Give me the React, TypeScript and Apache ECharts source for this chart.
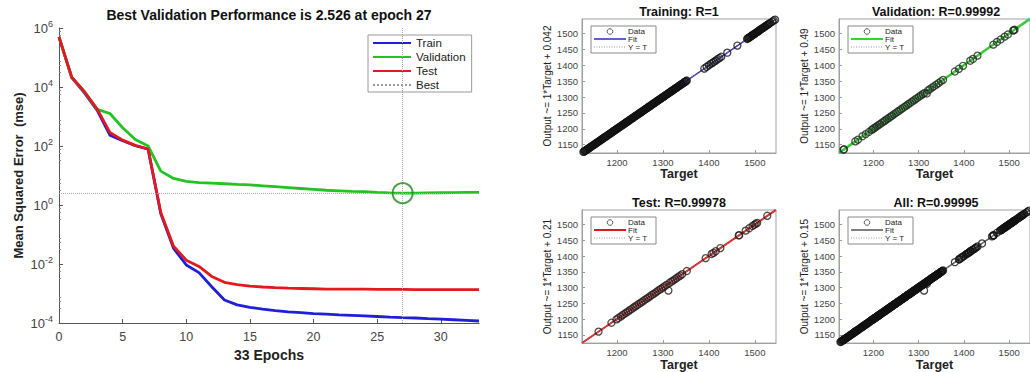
import React, { useEffect, useRef } from "react";
import * as echarts from "echarts";

// ---------------- data: performance curve ----------------
const epochs = [0, 1, 2, 3, 4, 5, 6, 7, 8, 9, 10, 11, 12, 13, 14, 15, 16, 17, 18, 19, 20, 21, 22, 23, 24, 25, 26, 27, 28, 29, 30, 31, 32, 33];
const trainPerf = [4.9e5, 2.09e4, 6.3e3, 1.62e3, 234, 151, 102, 79, 0.5, 0.034, 9.3e-3, 5.1e-3, 1.7e-3, 6.0e-4, 4.1e-4, 3.4e-4, 2.95e-4, 2.63e-4, 2.4e-4, 2.24e-4, 2.09e-4, 2.0e-4, 1.9e-4, 1.82e-4, 1.74e-4, 1.66e-4, 1.58e-4, 1.51e-4, 1.48e-4, 1.41e-4, 1.35e-4, 1.29e-4, 1.23e-4, 1.17e-4];
const valPerf = [5.0e5, 2.14e4, 6.9e3, 1.74e3, 1.26e3, 417, 166, 100, 14.1, 7.94, 6.31, 5.75, 5.5, 5.25, 5.0, 4.79, 4.47, 4.17, 3.89, 3.63, 3.39, 3.16, 3.02, 2.88, 2.82, 2.69, 2.57, 2.526, 2.54, 2.57, 2.6, 2.63, 2.66, 2.69];
const testPerf = [5.0e5, 2.14e4, 6.9e3, 1.78e3, 288, 158, 105, 79, 0.56, 0.04, 0.0135, 8.3e-3, 3.8e-3, 2.4e-3, 2.0e-3, 1.78e-3, 1.66e-3, 1.58e-3, 1.51e-3, 1.48e-3, 1.45e-3, 1.41e-3, 1.41e-3, 1.41e-3, 1.41e-3, 1.38e-3, 1.38e-3, 1.38e-3, 1.35e-3, 1.35e-3, 1.35e-3, 1.35e-3, 1.35e-3, 1.35e-3];
const bestEpoch = 27;
const bestPerf = 2.526;
const epochTicks = [0, 5, 10, 15, 20, 25, 30];
const perfTicks = [1e-4, 1e-2, 1, 1e2, 1e4, 1e6];
const perfRange = [1e-4, 1e6];
const epochRange = [0, 33];

// ---------------- data: regression panels ----------------
const panelTitles = ["Training", "Validation", "Test", "All"];
const panelR = ["1", "0.99992", "0.99978", "0.99995"];
const fitSlope = [1, 1, 1, 1];
const fitIntercept = [0.042, 0.49, 0.21, 0.15];
const targetRange = [1124, 1546];
const targetTicks = [1200, 1300, 1400, 1500];
const outputTicks = [1150, 1200, 1250, 1300, 1350, 1400, 1450, 1500];

const trainPoints: [number, number][] = [
  [1127, 1127.5], [1130, 1130.2], [1133, 1133], [1136, 1136.4], [1139, 1138.8], [1142, 1142.3], [1145, 1145], [1148, 1148.5],
  [1151, 1150.7], [1154, 1154.2], [1157, 1157], [1160, 1160.3], [1163, 1162.8], [1166, 1166.2], [1169, 1169], [1172, 1172.4],
  [1175, 1174.7], [1178, 1178.1], [1181, 1181], [1184, 1184.3], [1187, 1186.8], [1190, 1190.2], [1193, 1193], [1196, 1196.4],
  [1199, 1198.9], [1202, 1202.2], [1205, 1205], [1208, 1208.3], [1211, 1210.8], [1214, 1214.1], [1217, 1217], [1220, 1220.4],
  [1223, 1222.7], [1226, 1226.2], [1229, 1229], [1232, 1232.3], [1235, 1234.8], [1238, 1238.2], [1241, 1241], [1244, 1244.4],
  [1247, 1246.9], [1250, 1250.1], [1253, 1253], [1256, 1256.3], [1259, 1258.8], [1262, 1262.2], [1265, 1265], [1268, 1268.4],
  [1271, 1270.8], [1274, 1274.1], [1277, 1277], [1280, 1280.3], [1283, 1282.8], [1286, 1286.2], [1289, 1289], [1292, 1292.4],
  [1295, 1294.8], [1298, 1298.1], [1301, 1301], [1304, 1304.3], [1307, 1306.8], [1310, 1310.2], [1313, 1313], [1316, 1316.3],
  [1319, 1318.9], [1322, 1322.2], [1325, 1325], [1328, 1328.4], [1331, 1330.8], [1334, 1334.2], [1337, 1337], [1340, 1340.3],
  [1343, 1342.8], [1346, 1346.1], [1349, 1349], [1352, 1352.3],
  [1128.5, 1128.2], [1131.5, 1131.9], [1134.5, 1134.3], [1137.5, 1137.8], [1140.5, 1140.2], [1143.5, 1143.9], [1146.5, 1146.3], [1149.5, 1149.8],
  [1152.5, 1152.2], [1155.5, 1155.9], [1158.5, 1158.3], [1161.5, 1161.8], [1164.5, 1164.2], [1167.5, 1167.9], [1170.5, 1170.3], [1173.5, 1173.8],
  [1176.5, 1176.2], [1179.5, 1179.9], [1182.5, 1182.3], [1185.5, 1185.8], [1188.5, 1188.2], [1191.5, 1191.9], [1194.5, 1194.3], [1197.5, 1197.8],
  [1200.5, 1200.2], [1203.5, 1203.9], [1206.5, 1206.3], [1209.5, 1209.8], [1212.5, 1212.2], [1215.5, 1215.9], [1218.5, 1218.3], [1221.5, 1221.8],
  [1224.5, 1224.2], [1227.5, 1227.9], [1230.5, 1230.3], [1233.5, 1233.8], [1236.5, 1236.2], [1239.5, 1239.9], [1242.5, 1242.3], [1245.5, 1245.8],
  [1248.5, 1248.2], [1251.5, 1251.9], [1254.5, 1254.3], [1257.5, 1257.8], [1260.5, 1260.2], [1263.5, 1263.9], [1266.5, 1266.3], [1269.5, 1269.8],
  [1272.5, 1272.2], [1275.5, 1275.9], [1278.5, 1278.3], [1281.5, 1281.8], [1284.5, 1284.2], [1287.5, 1287.9], [1290.5, 1290.3], [1293.5, 1293.8],
  [1296.5, 1296.2], [1299.5, 1299.9], [1302.5, 1302.3], [1305.5, 1305.8], [1308.5, 1308.2], [1311.5, 1311.9], [1314.5, 1314.3], [1317.5, 1317.8],
  [1320.5, 1320.2], [1323.5, 1323.9], [1326.5, 1326.3], [1329.5, 1329.8], [1332.5, 1332.2], [1335.5, 1335.9], [1338.5, 1338.3], [1341.5, 1341.8],
  [1344.5, 1344.2], [1347.5, 1347.9], [1350.5, 1350.3],
  [1390, 1390], [1395, 1395.5], [1400, 1400], [1404, 1404.6], [1408, 1408], [1411, 1411.3], [1415, 1415], [1419, 1419.4],
  [1423, 1423], [1427, 1427.2], [1440, 1440], [1462, 1462.3], [1483, 1483], [1486, 1486.4], [1489, 1489], [1492, 1492.2],
  [1495, 1495], [1498, 1498.3], [1501, 1501], [1504, 1504.2], [1507, 1507], [1510, 1510.3], [1514, 1514], [1518, 1518.2],
  [1522, 1522], [1526, 1526.3], [1530, 1530], [1534, 1534.2], [1538, 1538], [1541, 1541.3], [1544, 1544],
  [1484.5, 1484.8], [1487.5, 1487.3], [1490.5, 1490.9], [1493.5, 1493.4], [1496.5, 1496.8], [1499.5, 1499.2], [1502.5, 1502.7],
  [1505.5, 1505.3], [1508.5, 1508.8], [1512, 1512.3], [1516, 1516.4], [1520, 1520.2], [1524, 1524.5], [1528, 1528.1], [1532, 1532.4],
];

const valPoints: [number, number][] = [
  [1134, 1134.5], [1135, 1135.8], [1160, 1160.6], [1166, 1166.2], [1176, 1176.9], [1183, 1183.4], [1190, 1190.2], [1196, 1196.8],
  [1199, 1199.3], [1202, 1202.9], [1205, 1205.1], [1208, 1208.7], [1212, 1212.4], [1215, 1215.3], [1219, 1219.8], [1223, 1223.2],
  [1226, 1226.6], [1230, 1230.9], [1234, 1234.1], [1238, 1238.7], [1241, 1241.4], [1245, 1245.9], [1249, 1249.2], [1253, 1253.8],
  [1257, 1257.3], [1261, 1261.6], [1265, 1265.2], [1269, 1269.7], [1273, 1273.4], [1277, 1277.9], [1281, 1281.1], [1285, 1285.6],
  [1289, 1289.4], [1293, 1293.8], [1297, 1297.2], [1301, 1301.7], [1305, 1305.3], [1309, 1309.5], [1313, 1313.1], [1318, 1311.5],
  [1321, 1321.6], [1325, 1325.2], [1330, 1330.8], [1334, 1334.3], [1339, 1339.5], [1344, 1344.1], [1349, 1349.7], [1354, 1354.4],
  [1380, 1380.6], [1389, 1389.2], [1398, 1398.5], [1414, 1414.7], [1420, 1420.3], [1430, 1430.6], [1465, 1465.2], [1473, 1473.8],
  [1481, 1481.4], [1490, 1490.5], [1497, 1497.1], [1509, 1509.4], [1510, 1510.8], [1512, 1512.2],
];

const testPoints: [number, number][] = [
  [1160, 1160.4], [1188, 1188.6], [1199, 1199.2], [1203, 1203.5], [1208, 1208.1], [1212, 1212.6], [1216, 1216.3], [1220, 1220.8],
  [1224, 1224.2], [1228, 1228.5], [1232, 1232.1], [1236, 1236.7], [1240, 1240.3], [1244, 1244.6], [1248, 1248.2], [1252, 1252.5],
  [1256, 1256.1], [1260, 1260.6], [1264, 1264.3], [1268, 1268.4], [1272, 1272.2], [1276, 1276.7], [1280, 1280.1], [1284, 1284.5],
  [1288, 1288.3], [1292, 1292.6], [1296, 1296.2], [1300, 1300.4], [1304, 1304.1], [1308, 1308.6], [1312, 1290.5], [1314, 1314.3],
  [1318, 1318.7], [1322, 1322.2], [1326, 1326.5], [1330, 1330.1], [1334, 1334.6], [1338, 1338.2], [1342, 1342.4], [1352, 1352.5],
  [1393, 1393.4], [1406, 1406.6], [1410, 1410.2], [1415, 1415.5], [1425, 1425.3], [1465, 1465.4], [1466, 1466.2], [1480, 1480.6],
  [1488, 1488.3], [1495, 1495.5], [1499, 1499.2], [1502, 1502.4], [1505, 1505.1], [1527, 1527.6],
];

const allPoints: [number, number][] = [...trainPoints, ...valPoints, ...testPoints];
const panelPoints = [trainPoints, valPoints, testPoints, allPoints];

// ---------------- layout & style ----------------
const FONT = "'Liberation Sans', Arial, Helvetica, sans-serif";
const mainGrid = { left: 59, top: 28, width: 420, height: 295 };
const panelGrids = [
  { left: 582, top: 19, width: 194, height: 134 },
  { left: 839, top: 19, width: 194, height: 134 },
  { left: 582, top: 210, width: 194, height: 134 },
  { left: 839, top: 210, width: 194, height: 134 },
];
const fitColors = ["#1c1cb4", "#2fd62f", "#e01a1a", "#555555"];
const fitWidths = [1.4, 2.6, 2, 1.5];
const dotColors = ["#111111", "#1e2a1e", "#2a1a1a", "#111111"];
const trainColor = "#1f1fd8";
const valColor = "#22c322";
const testColor = "#e3191e";

function miniLegend(i: number) {
  const g = panelGrids[i];
  const x = g.left + 9;
  const y = g.top + 7;
  const txt = (t: string, dy: number) => ({
    type: "text",
    x: x + 37,
    y: y + dy,
    silent: true,
    style: { text: t, fill: "#222", font: `8px ${FONT}`, align: "left", verticalAlign: "middle" },
  });
  return {
    type: "group",
    silent: true,
    children: [
      { type: "rect", shape: { x, y, width: 65, height: 27 }, style: { fill: "#fff", stroke: "#8a8a8a", lineWidth: 1 } },
      { type: "circle", shape: { cx: x + 19, cy: y + 5.5, r: 2.8 }, style: { fill: "none", stroke: "#333", lineWidth: 0.8 } },
      txt("Data", 5.5),
      { type: "line", shape: { x1: x + 3, y1: y + 13, x2: x + 35, y2: y + 13 }, style: { stroke: fitColors[i], lineWidth: Math.min(fitWidths[i], 2) } },
      txt("Fit", 13),
      { type: "line", shape: { x1: x + 3, y1: y + 21, x2: x + 35, y2: y + 21 }, style: { stroke: "#999", lineWidth: 1, lineDash: [1, 1.5] } },
      txt("Y = T", 21),
    ],
  };
}

function titleText(text: string, x: number, y: number, size: number) {
  return {
    type: "text",
    x,
    y,
    silent: true,
    style: { text, fill: "#111", font: `bold ${size}px ${FONT}`, align: "center", verticalAlign: "middle" },
  };
}

export default function App() {
  const ref = useRef<HTMLDivElement>(null);

  useEffect(() => {
    if (!ref.current) return;
    const chart = echarts.init(ref.current, null, { renderer: "svg" });

    const grids: any[] = [
      { ...mainGrid, containLabel: false, show: false },
      ...panelGrids.map((g) => ({ ...g, containLabel: false, show: true, borderColor: "#a0a0a0", borderWidth: 1, backgroundColor: "transparent" })),
    ];

    const xAxes: any[] = [
      {
        gridIndex: 0,
        type: "value",
        min: epochRange[0],
        max: epochRange[1],
        name: "33 Epochs",
        nameLocation: "middle",
        nameGap: 24,
        nameTextStyle: { fontSize: 14, fontWeight: "bold", color: "#222", fontFamily: FONT },
        axisLine: { show: true, lineStyle: { color: "#555", width: 1 } },
        axisTick: { show: true, inside: true, length: 4, customValues: epochTicks, lineStyle: { color: "#555" } },
        axisLabel: { customValues: epochTicks, fontSize: 12.5, color: "#444", margin: 7, fontFamily: FONT },
        splitLine: { show: false },
      },
      ...panelGrids.map((_, i) => ({
        gridIndex: i + 1,
        type: "value",
        min: targetRange[0],
        max: targetRange[1],
        name: "Target",
        nameLocation: "middle",
        nameGap: 14,
        nameTextStyle: { fontSize: 12.5, fontWeight: "bold", color: "#222", fontFamily: FONT },
        axisLine: { show: true, lineStyle: { color: "#a0a0a0", width: 1 } },
        axisTick: { show: true, inside: true, length: 3, customValues: targetTicks, lineStyle: { color: "#999" } },
        axisLabel: { customValues: targetTicks, formatter: (v: number) => String(v), fontSize: 9.5, color: "#444", margin: 4, fontFamily: FONT },
        splitLine: { show: false },
      })),
    ];

    const yAxes: any[] = [
      {
        gridIndex: 0,
        type: "log",
        logBase: 10,
        min: perfRange[0],
        max: perfRange[1],
        name: "Mean Squared Error  (mse)",
        nameLocation: "middle",
        nameGap: 34,
        nameTextStyle: { fontSize: 13, fontWeight: "bold", color: "#222", fontFamily: FONT },
        axisLine: { show: true, lineStyle: { color: "#555", width: 1 } },
        axisTick: { show: true, inside: true, length: 4, customValues: perfTicks, lineStyle: { color: "#555" } },
        minorTick: { show: true, splitNumber: 4, length: 2, lineStyle: { color: "#888" } },
        axisLabel: {
          customValues: perfTicks,
          margin: 6,
          formatter: (v: number) => `{b|10}{e|${Math.round(Math.log10(v))}}`,
          rich: {
            b: { fontSize: 13, color: "#444", fontFamily: FONT },
            e: { fontSize: 9, color: "#444", fontFamily: FONT, padding: [0, 0, 9, 0] },
          },
        },
        splitLine: { show: false },
      },
      ...panelGrids.map((_, i) => ({
        gridIndex: i + 1,
        type: "value",
        min: targetRange[0],
        max: targetRange[1],
        name: `Output ~= ${fitSlope[i]}*Target + ${fitIntercept[i]}`,
        nameLocation: "middle",
        nameGap: 28,
        nameTextStyle: { fontSize: 10, color: "#222", fontFamily: FONT },
        axisLine: { show: true, lineStyle: { color: "#a0a0a0", width: 1 } },
        axisTick: { show: true, inside: true, length: 3, customValues: outputTicks, lineStyle: { color: "#999" } },
        axisLabel: { customValues: outputTicks, formatter: (v: number) => String(v), fontSize: 9.5, color: "#444", margin: 4, fontFamily: FONT },
        splitLine: { show: false },
      })),
    ];

    const mainSeries: any[] = [
      {
        name: "Train",
        type: "line",
        xAxisIndex: 0,
        yAxisIndex: 0,
        data: epochs.map((e, i) => [e, trainPerf[i]]),
        symbol: "none",
        lineStyle: { color: trainColor, width: 2.8 },
        itemStyle: { color: trainColor },
        z: 2,
      },
      {
        name: "Validation",
        type: "line",
        xAxisIndex: 0,
        yAxisIndex: 0,
        data: epochs.map((e, i) => [e, valPerf[i]]),
        symbol: "none",
        lineStyle: { color: valColor, width: 2.8 },
        itemStyle: { color: valColor },
        z: 2,
      },
      {
        name: "Test",
        type: "line",
        xAxisIndex: 0,
        yAxisIndex: 0,
        data: epochs.map((e, i) => [e, testPerf[i]]),
        symbol: "none",
        lineStyle: { color: testColor, width: 2.8 },
        itemStyle: { color: testColor },
        z: 3,
      },
      {
        name: "Best",
        type: "line",
        xAxisIndex: 0,
        yAxisIndex: 0,
        data: [[bestEpoch, bestPerf]],
        symbol: "none",
        lineStyle: { color: "#999", width: 1, type: "dotted" },
        itemStyle: { color: "#999" },
        markLine: {
          silent: true,
          symbol: "none",
          label: { show: false },
          lineStyle: { color: "#a8a8a8", width: 1, type: "dotted" },
          data: [{ xAxis: bestEpoch }, { yAxis: bestPerf }],
        },
        z: 1,
      },
      {
        name: "bestCircle",
        type: "scatter",
        xAxisIndex: 0,
        yAxisIndex: 0,
        data: [[bestEpoch, bestPerf]],
        symbol: "circle",
        symbolSize: 20,
        itemStyle: { color: "transparent", borderColor: "#1b8a1b", borderWidth: 2 },
        z: 5,
      },
    ];

    const panelSeries: any[] = [];
    panelGrids.forEach((_, i) => {
      const lo = targetRange[0];
      const hi = targetRange[1];
      panelSeries.push({
        name: `fit${i}`,
        type: "line",
        xAxisIndex: i + 1,
        yAxisIndex: i + 1,
        data: [
          [lo, fitSlope[i] * lo + fitIntercept[i]],
          [hi, fitSlope[i] * hi + fitIntercept[i]],
        ],
        symbol: "none",
        lineStyle: { color: fitColors[i], width: fitWidths[i] },
        z: 2,
      });
      panelSeries.push({
        name: `yt${i}`,
        type: "line",
        xAxisIndex: i + 1,
        yAxisIndex: i + 1,
        data: [
          [lo, lo],
          [hi, hi],
        ],
        symbol: "none",
        lineStyle: { color: "#888", width: 1, type: "dotted" },
        z: 3,
      });
      panelSeries.push({
        name: `data${i}`,
        type: "scatter",
        xAxisIndex: i + 1,
        yAxisIndex: i + 1,
        data: panelPoints[i],
        symbol: "circle",
        symbolSize: 7,
        itemStyle: { color: "transparent", borderColor: dotColors[i], borderWidth: 1.3 },
        z: 4,
      });
    });

    const graphics: any[] = [
      titleText("Best Validation Performance is 2.526 at epoch 27", 269, 15, 14),
      ...panelGrids.map((g, i) => titleText(`${panelTitles[i]}: R=${panelR[i]}`, g.left + g.width / 2, g.top - 7, 12.5)),
      ...panelGrids.map((_, i) => miniLegend(i)),
    ];

    chart.setOption({
      animation: false,
      backgroundColor: "#ffffff",
      textStyle: { fontFamily: FONT },
      grid: grids,
      xAxis: xAxes,
      yAxis: yAxes,
      legend: [
        {
          data: ["Train", "Validation", "Test", "Best"],
          orient: "vertical",
          left: 368,
          top: 35,
          padding: [1, 6, 0, 4],
          itemWidth: 38,
          itemHeight: 14,
          itemGap: 0,
          borderColor: "#999",
          borderWidth: 1,
          selectedMode: false,
          itemStyle: { opacity: 0 },
          textStyle: { fontSize: 11.5, lineHeight: 14, color: "#222", fontFamily: FONT },
        },
      ],
      series: [...mainSeries, ...panelSeries],
      graphic: graphics,
    });

    return () => chart.dispose();
  }, []);

  return <div ref={ref} style={{ position: "fixed", left: 0, top: 0, width: 1030, height: 372, background: "#fff" }} />;
}
